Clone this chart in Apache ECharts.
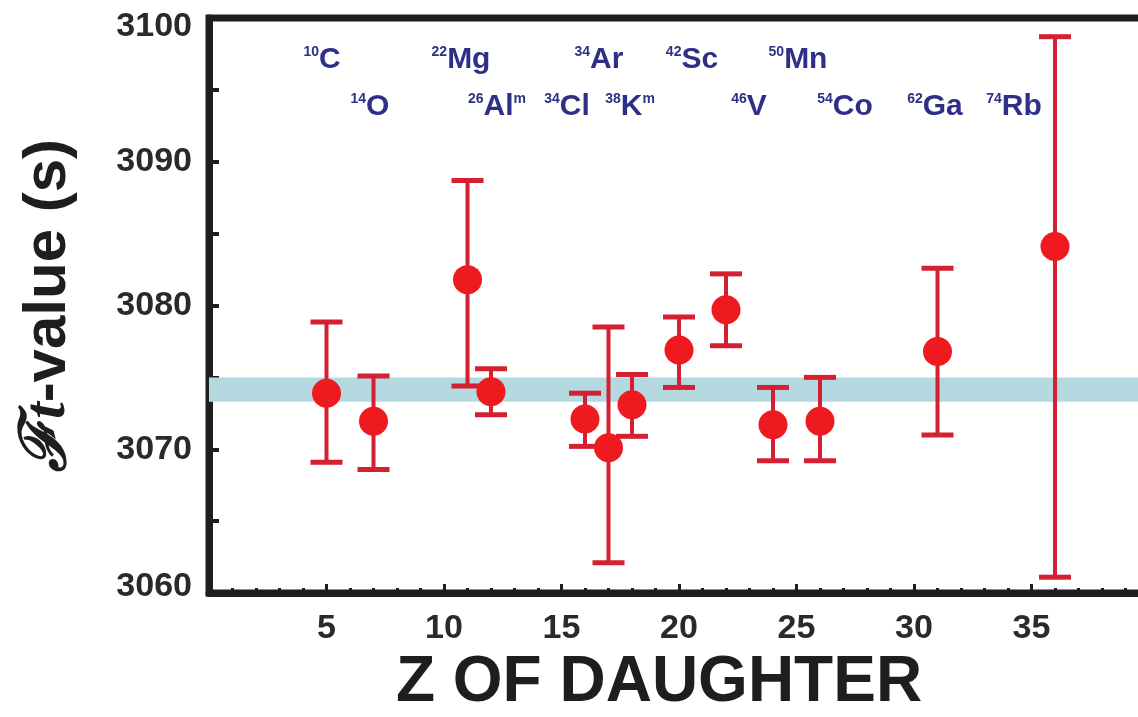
<!DOCTYPE html>
<html>
<head>
<meta charset="utf-8">
<script src="https://cdn.jsdelivr.net/npm/echarts@6/dist/echarts.min.js"></script>
<style>
  html, body { margin: 0; padding: 0; background: #fff; overflow: hidden; }
  #chart { width: 1150px; height: 717px; }
</style>
</head>
<body>
<div id="chart"></div>
<script>
// superallowed decays: Z of daughter, Ft value and error bar ends (s)
const nuclides = ['10C', '14O', '22Mg', '26Al^m', '34Cl', '34Ar', '38K^m', '42Sc', '46V', '50Mn', '54Co', '62Ga', '74Rb'];
const zDaughter = [5, 7, 11, 12, 16, 17, 18, 20, 22, 24, 26, 31, 36];
const ftValue = [3073.9, 3071.95, 3081.8, 3074.0, 3072.1, 3070.1, 3073.1, 3076.9, 3079.7, 3071.7, 3071.95, 3076.8, 3084.1];
const ftHigh = [3078.85, 3075.1, 3088.7, 3075.6, 3073.9, 3078.5, 3075.2, 3079.2, 3082.2, 3074.3, 3075.0, 3082.6, 3098.7];
const ftLow = [3069.1, 3068.6, 3074.4, 3072.4, 3070.2, 3062.1, 3070.9, 3074.3, 3077.2, 3069.2, 3069.2, 3071.0, 3061.1];
const avgBand = [3073.3, 3075.0];

// where the nuclide names sit (pixels), same order as nuclides
const labelSpots = [
  [322, 60], [370, 107], [461, 60], [497, 107], [567, 107], [599, 60], [630, 107],
  [692, 60], [749, 107], [798, 60], [845, 107], [935, 107], [1014, 107]
];

const chart = echarts.init(document.getElementById('chart'));

function nuclideText(name) {
  const m = name.match(/^(\d+)([A-Za-z]+)(\^m)?$/);
  let t = '{s|' + m[1] + '}{e|' + m[2] + '}';
  if (m[3]) t += '{s|m}';
  return t;
}

const ink = '#2e3088';
const rich = {
  s: { fontSize: 14, fontWeight: 'bold', fill: ink, verticalAlign: 'top', lineHeight: 30, fontFamily: 'Liberation Sans' },
  e: { fontSize: 30, fontWeight: 'bold', fill: ink, lineHeight: 30, fontFamily: 'Liberation Sans' }
};

chart.setOption({
  animation: false,
  backgroundColor: '#fff',
  grid: {
    left: 209, right: 1, top: 18, bottom: 124,
    containLabel: false, outerBoundsMode: 'none',
    show: true, borderColor: '#1e1e1e', borderWidth: 7
  },
  xAxis: {
    type: 'value',
    min: 0, max: 40, interval: 5,
    name: 'Z OF DAUGHTER',
    nameLocation: 'middle',
    nameGap: 52,
    nameTextStyle: {
      fontSize: 64, fontWeight: 'bold', color: '#1e1e1e',
      fontFamily: 'Liberation Sans', padding: [0, 40, 0, 0]
    },
    axisLine: { show: true, lineStyle: { color: '#1e1e1e', width: 7 } },
    axisTick: { show: true, inside: true, length: 9, lineStyle: { color: '#1e1e1e', width: 3 } },
    minorTick: { show: true, splitNumber: 5, length: 5, lineStyle: { color: '#1e1e1e', width: 3 } },
    splitLine: { show: false },
    axisLabel: {
      margin: 19,
      fontSize: 34, fontWeight: 'bold', color: '#2a2a2a', fontFamily: 'Liberation Sans',
      formatter: v => (v > 0 && v < 40) ? String(v) : ''
    }
  },
  yAxis: {
    type: 'value',
    min: 3060, max: 3100, interval: 10,
    name: '{f|ℱ}{t|t}{n|-value (s)}',
    nameLocation: 'middle',
    nameGap: 129,
    nameTextStyle: {
      rich: {
        f: { fontSize: 64, fontWeight: 'bold', fontFamily: 'DejaVu Serif', fontStyle: 'italic', color: '#1e1e1e' },
        t: { fontSize: 60, fontWeight: 'bold', fontStyle: 'italic', fontFamily: 'Liberation Serif', color: '#1e1e1e' },
        n: { fontSize: 60, fontWeight: 'bold', fontFamily: 'Liberation Sans', color: '#1e1e1e' }
      }
    },
    axisLine: { show: true, lineStyle: { color: '#1e1e1e', width: 7 } },
    axisTick: { show: true, inside: true, length: 10, lineStyle: { color: '#1e1e1e', width: 4 } },
    minorTick: { show: true, splitNumber: 2, length: 10, lineStyle: { color: '#1e1e1e', width: 4 } },
    splitLine: { show: false },
    axisLabel: {
      margin: 17,
      fontSize: 34, fontWeight: 'bold', color: '#2a2a2a', fontFamily: 'Liberation Sans',
      formatter: v => v === 3100 ? '{top|' + v + '}' : (v === 3060 ? '{bot|' + v + '}' : String(v)),
      rich: {
        top: { fontSize: 34, fontWeight: 'bold', color: '#2a2a2a', fontFamily: 'Liberation Sans', padding: [18, 0, 0, 0] },
        bot: { fontSize: 34, fontWeight: 'bold', color: '#2a2a2a', fontFamily: 'Liberation Sans', padding: [0, 0, 12, 0] }
      }
    }
  },
  graphic: nuclides.map((n, i) => ({
    type: 'text',
    x: labelSpots[i][0],
    y: labelSpots[i][1],
    z: 10,
    style: {
      text: nuclideText(n),
      rich: rich,
      fill: ink,
      align: 'center',
      verticalAlign: 'middle'
    }
  })),
  series: [
    {
      type: 'custom',
      name: 'error',
      z: 3,
      data: zDaughter.map((z, i) => [z, ftLow[i], ftHigh[i]]),
      encode: { x: 0, y: [1, 2] },
      markArea: {
        silent: true,
        itemStyle: { color: '#b5d9e1', opacity: 1 },
        data: [[{ yAxis: avgBand[0] }, { yAxis: avgBand[1] }]]
      },
      renderItem: function (params, api) {
        const lo = api.coord([api.value(0), api.value(1)]);
        const hi = api.coord([api.value(0), api.value(2)]);
        const cap = 16;
        const line = { stroke: '#d42030', lineWidth: 4 };
        const capStyle = { stroke: '#d42030', lineWidth: 5 };
        return {
          type: 'group',
          children: [
            { type: 'line', shape: { x1: hi[0], y1: hi[1], x2: lo[0], y2: lo[1] }, style: line },
            { type: 'line', shape: { x1: hi[0] - cap, y1: hi[1], x2: hi[0] + cap, y2: hi[1] }, style: capStyle },
            { type: 'line', shape: { x1: lo[0] - cap, y1: lo[1], x2: lo[0] + cap, y2: lo[1] }, style: capStyle }
          ]
        };
      }
    },
    {
      type: 'scatter',
      name: 'Ft',
      z: 4,
      symbol: 'circle',
      symbolSize: 29,
      itemStyle: { color: '#ee1a1f', opacity: 1 },
      data: zDaughter.map((z, i) => [z, ftValue[i]])
    }
  ]
});
</script>
</body>
</html>
